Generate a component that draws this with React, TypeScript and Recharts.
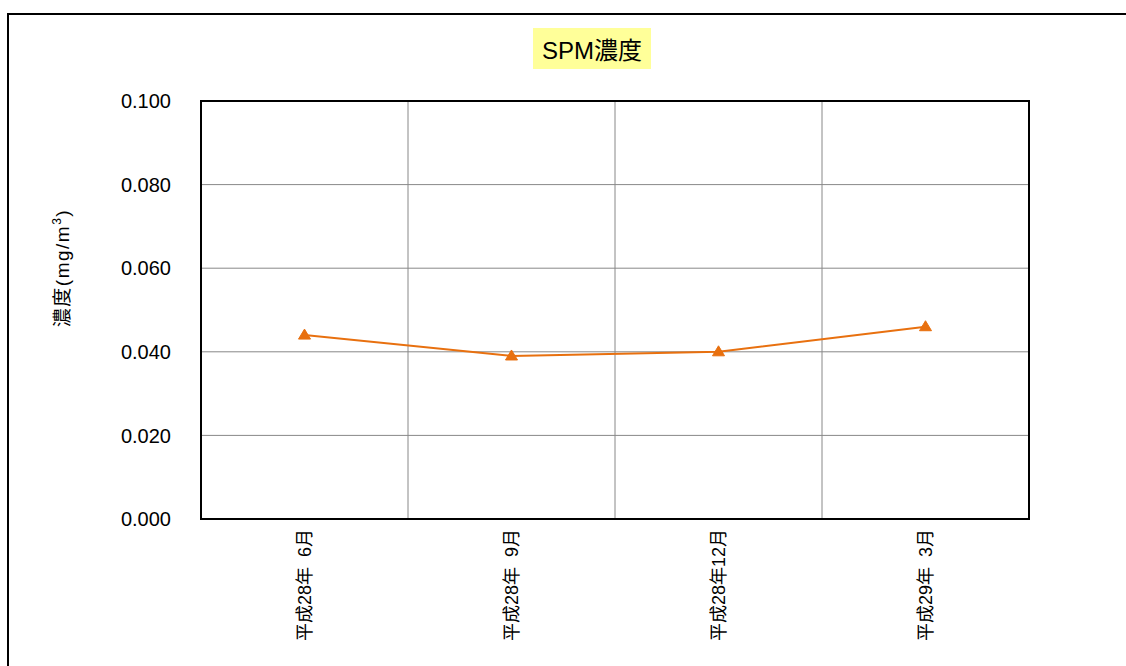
import { LineChart, Line, XAxis, YAxis, CartesianGrid, ReferenceArea } from "recharts";

const periods = ["平成28年  6月", "平成28年  9月", "平成28年12月", "平成29年  3月"];
const spmValues = [0.044, 0.039, 0.04, 0.046];
const yTicks = [0, 0.02, 0.04, 0.06, 0.08, 0.1];

const data = periods.map((p, i) => ({ period: p, spm: spmValues[i] }));

const FONT = "'Liberation Sans', 'Noto Sans CJK JP', sans-serif";

function Triangle(props: any) {
  const { cx, cy } = props;
  if (cx == null || cy == null) return null;
  return (
    <polygon
      points={`${cx},${cy - 6} ${cx - 6},${cy + 4} ${cx + 6},${cy + 4}`}
      fill="#E8700F"
      stroke="#E8700F"
    />
  );
}

function VerticalTick(props: any) {
  const { x, y, payload } = props;
  return (
    <text
      x={0}
      y={0}
      transform={`translate(${x + 6},${y + 2}) rotate(-90)`}
      textAnchor="end"
      fontSize={18}
      fontFamily={FONT}
      fill="#000"
      style={{ whiteSpace: "pre" }}
    >
      {payload.value}
    </text>
  );
}

export default function App() {
  return (
    <div style={{ position: "relative", width: 1126, height: 666, overflow: "hidden", background: "#fff" }}>
      <style>{"body{margin:0}"}</style>
      <div
        style={{
          position: "absolute",
          left: 7,
          top: 13,
          width: 1130,
          height: 670,
          border: "2px solid #000",
          boxSizing: "border-box",
        }}
      />
      <div
        style={{
          position: "absolute",
          left: 533,
          top: 28,
          width: 118,
          height: 41,
          background: "#FFFF99",
          display: "flex",
          alignItems: "center",
          justifyContent: "center",
          fontFamily: FONT,
          fontSize: 24,
          color: "#000",
        }}
      >
        SPM濃度
      </div>
      <div
        style={{
          position: "absolute",
          left: 60,
          top: 268,
          transform: "translate(-50%, -50%) rotate(-90deg)",
          whiteSpace: "nowrap",
          fontFamily: FONT,
          fontSize: 19,
          letterSpacing: 1.5,
          color: "#000",
        }}
      >
        濃度(mg/m<sup style={{ fontSize: 12 }}>3</sup>)
      </div>
      <LineChart
        width={1126}
        height={666}
        data={data}
        margin={{ top: 101, right: 97, bottom: 17, left: 141 }}
        style={{ position: "absolute", left: 0, top: 0 }}
      >
        <CartesianGrid
          stroke="#888"
          strokeWidth={1}
          verticalCoordinatesGenerator={({ offset }: any) =>
            periods.slice(1).map((_, i) => offset.left + ((i + 1) * offset.width) / periods.length)
          }
        />
        <XAxis
          dataKey="period"
          scale="band"
          height={130}
          interval={0}
          tickLine={false}
          axisLine={{ stroke: "#000", strokeWidth: 2 }}
          tick={<VerticalTick />}
        />
        <YAxis
          domain={[0, 0.1]}
          ticks={yTicks}
          width={60}
          tickLine={false}
          tickMargin={24}
          interval={0}
          axisLine={{ stroke: "#000", strokeWidth: 2 }}
          tickFormatter={(v: number) => v.toFixed(3)}
          tick={{ fontSize: 20, fontFamily: FONT, fill: "#000" }}
        />
        <ReferenceArea y1={0} y2={0.1} fill="none" stroke="#000" strokeWidth={2} />
        <Line
          dataKey="spm"
          stroke="#E8700F"
          strokeWidth={2}
          dot={<Triangle />}
          activeDot={false}
          isAnimationActive={false}
        />
      </LineChart>
    </div>
  );
}
